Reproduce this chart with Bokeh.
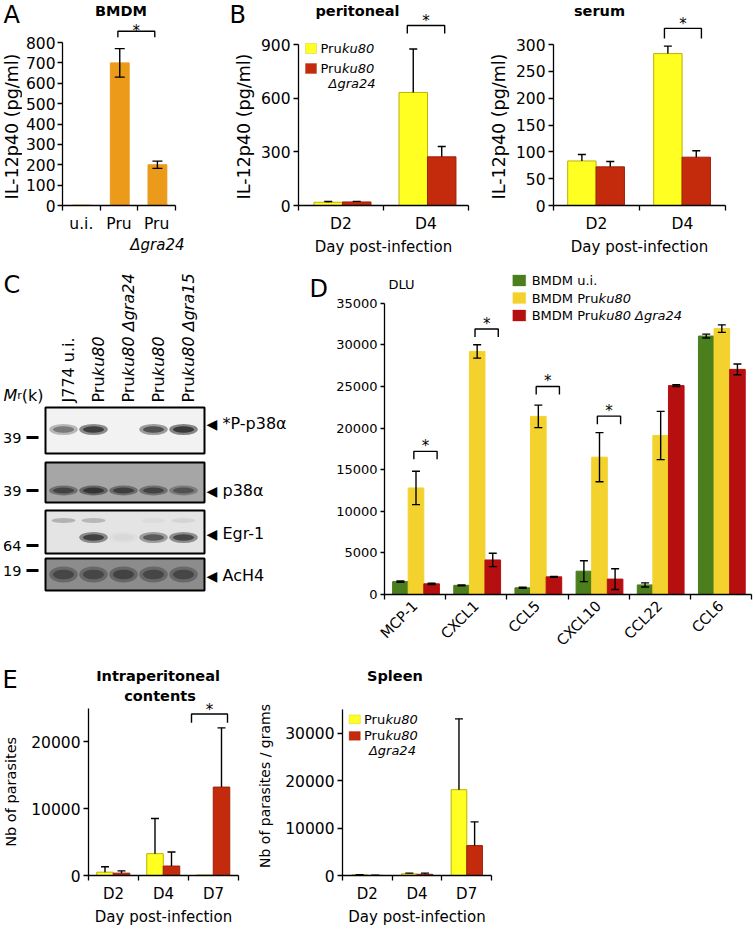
import math
from bokeh.plotting import figure
from bokeh.models import (Range1d, LinearAxis, FixedTicker, Label, Whisker,
                          TeeHead, ColumnDataSource, BoxAnnotation)
from bokeh.layouts import row, column
from bokeh.embed import file_html
from bokeh.resources import INLINE

FONT = "DejaVu Sans"
ORANGE = "#EC9A1A"
YEL, YEL_LINE = "#FFFF22", "#BDB000"
RED, RED_LINE = "#C42A0C", "#A01F08"
D_GREEN, D_YELLOW, D_RED = "#4B7E1C", "#F3D22D", "#B60F10"

# ---------------- data ----------------
a_labels = ["u.i.", "Pru", "Pru"]
a_il12 = [2, 700, 200]
a_il12_err = [0, 70, 18]
a_sig_level = 855

b_days = ["D2", "D4"]
perit_pru = [18, 632]
perit_pru_err = [4, 243]
perit_gra24 = [20, 272]
perit_gra24_err = [3, 58]
perit_sig_level = 1006
serum_pru = [83, 283]
serum_pru_err = [12, 14]
serum_gra24 = [72, 90]
serum_gra24_err = [10, 12]
serum_sig_level = 330

c_lane_labels = [
    [("J774 u.i.", "normal")],
    [("Pru", "normal"), ("ku80", "italic")],
    [("Pru", "normal"), ("ku80 Δgra24", "italic")],
    [("Pru", "normal"), ("ku80", "italic")],
    [("Pru", "normal"), ("ku80 Δgra15", "italic")],
]
c_targets = ["*P-p38α", "p38α", "Egr-1", "AcH4"]
c_mr = ["39", "39", "64", "19"]
c_band = [
    [0.55, 0.95, 0.0, 0.8, 1.0],
    [0.75, 0.9, 0.8, 0.75, 0.6],
    [0.0, 0.9, 0.05, 0.7, 0.85],
    [0.6, 0.6, 0.65, 0.6, 0.6],
]
c_band_upper = [0.35, 0.3, 0.0, 0.05, 0.1]

d_chemokines = ["MCP-1", "CXCL1", "CCL5", "CXCL10", "CCL22", "CCL6"]
d_ui = [1550, 1100, 800, 2800, 1150, 31050]
d_ui_err = [80, 50, 70, 1250, 250, 230]
d_pru = [12800, 29200, 21400, 16500, 19100, 31950]
d_pru_err = [2000, 800, 1350, 2950, 2900, 450]
d_gra24 = [1280, 4150, 2120, 1850, 25100, 27050]
d_gra24_err = [70, 800, 60, 1250, 100, 650]
d_sig_level = [17200, 31900, 25000, 21430, None, None]

e_days = ["D2", "D4", "D7"]
ip_pru = [495, 3260, 80]
ip_pru_err = [815, 5240, 0]
ip_gra24 = [350, 1410, 13200]
ip_gra24_err = [334, 2090, 8840]
ip_sig_level = 24120
sp_pru = [150, 350, 18120]
sp_pru_err = [40, 150, 14970]
sp_gra24 = [20, 250, 6320]
sp_gra24_err = [20, 250, 5010]

# ---------------- helpers ----------------
DJV = {"P": .603, "r": .411, "u": .634, "B": .686, "M": .863, "D": .770, " ": .318}
IDENT = ((0, 0), (1, 1))


def tw(s, size):
    return sum(DJV.get(c, .6) for c in s) * size


class Panel:
    def __init__(self, box, frame, xmap=IDENT, ymap=IDENT):
        bx0, bx1, by0, by1 = box
        l, r, t, b = frame
        (xa, va), (xb, vb) = xmap
        (ya, wa), (yb, wb) = ymap
        self.fx = lambda px: va + (px - xa) * (vb - va) / (xb - xa)
        self.fy = lambda py: wa + (py - ya) * (wb - wa) / (yb - ya)
        self.dy = self.fy(0) - self.fy(1)
        self.p = figure(width=bx1 - bx0, height=by1 - by0,
                        x_range=Range1d(self.fx(l), self.fx(r)),
                        y_range=Range1d(self.fy(b), self.fy(t)),
                        x_axis_location=None, y_axis_location=None,
                        toolbar_location=None, output_backend="svg",
                        min_border_left=round(l - bx0), min_border_right=round(bx1 - r),
                        min_border_top=round(t - by0), min_border_bottom=round(by1 - b),
                        outline_line_color=None, background_fill_color="white",
                        border_fill_color="white")
        self.p.grid.visible = False

    def label(self, x, y, s, size, style="normal", align="left", baseline="middle",
              angle=0, xo=0, yo=0, font=FONT, data=False):
        X = x if data else self.fx(x)
        Y = y if data else self.fy(y)
        self.p.add_layout(Label(x=X, y=Y, text=s, text_font=font,
                                text_font_size=f"{size}px", text_font_style=style,
                                text_align=align, text_baseline=baseline, angle=angle,
                                text_color="black", x_offset=xo, y_offset=yo))

    def rich(self, x, y, parts, size, baseline="middle"):
        off = 0
        for s, style in parts:
            self.label(x, y, s, size, style, xo=off, baseline=baseline)
            off += tw(s, size)

    def bars(self, centers, values, width, color, line=None):
        src = ColumnDataSource(dict(x=centers, top=values))
        self.p.vbar(x="x", top="top", bottom=0, width=width, source=src,
                    fill_color=color, line_color=line or color, line_width=1)

    def errs(self, centers, values, errs, both=True, cap=8):
        pts = [(c, v, e) for c, v, e in zip(centers, values, errs) if e > 0]
        src = ColumnDataSource(dict(x=[c for c, _, _ in pts],
                                    lower=[v - e if both else v for _, v, e in pts],
                                    upper=[v + e for _, v, e in pts]))
        w = Whisker(source=src, base="x", lower="lower", upper="upper",
                    dimension="height", line_color="black", line_width=1.4,
                    level="overlay",
                    upper_head=TeeHead(size=cap, line_width=1.4, line_color="black"),
                    lower_head=TeeHead(size=cap, line_width=1.4, line_color="black") if both else None)
        self.p.add_layout(w)

    def bracket(self, x0, x1, level, leg_px=7, star_px=13):
        leg = leg_px * self.dy
        self.p.line(x=[x0, x0, x1, x1], y=[level - leg, level, level, level - leg],
                    line_color="black", line_width=1.4)
        self.label((x0 + x1) / 2, level, "*", 15, align="center", baseline="alphabetic",
                   yo=star_px - 0.59 * 15, data=True)

    def yaxis(self, ticks, bounds, size, tick_out=5, standoff=3):
        ax = LinearAxis(ticker=FixedTicker(ticks=ticks, minor_ticks=[]), bounds=bounds,
                        major_label_text_font=FONT, major_label_text_font_size=f"{size}px",
                        major_label_text_color="black", major_tick_out=tick_out, major_tick_in=0,
                        minor_tick_out=0, minor_tick_in=0, major_label_standoff=standoff,
                        axis_line_width=1.3, major_tick_line_width=1.3,
                        axis_line_color="black", major_tick_line_color="black")
        self.p.add_layout(ax, "left")

    def xaxis(self, labels, size, orientation="horizontal", title=None, title_size=15):
        n = len(labels)
        centers = [i + 0.5 for i in range(n)]
        ax = LinearAxis(ticker=FixedTicker(ticks=centers, minor_ticks=list(range(n + 1))),
                        bounds=(0, n), major_label_overrides={c: s for c, s in zip(centers, labels)},
                        major_label_text_font=FONT, major_label_text_font_size=f"{size}px",
                        major_label_text_color="black", major_tick_out=0, major_tick_in=0,
                        minor_tick_out=5, minor_tick_in=0, major_label_standoff=4,
                        major_label_orientation=orientation,
                        axis_line_width=1.3, minor_tick_line_width=1.3,
                        axis_line_color="black", minor_tick_line_color="black")
        if title:
            ax.axis_label = title
            ax.axis_label_text_font = FONT
            ax.axis_label_text_font_size = f"{title_size}px"
            ax.axis_label_text_font_style = "normal"
            ax.axis_label_text_color = "black"
            ax.axis_label_standoff = 2
        self.p.add_layout(ax, "below")

    def legend_box(self, x0, x1, y0, y1, color, line):
        self.p.add_layout(BoxAnnotation(left=self.fx(x0), right=self.fx(x1),
                                        top=self.fy(y0), bottom=self.fy(y1),
                                        fill_color=color, fill_alpha=1, line_color=line,
                                        line_width=1, level="overlay"))


# ================= row 1 =================
SA = Panel((0, 22, 0, 268), (0, 22, 0, 205))
SA.label(3, 14, "A", 24)
SA.label(11.5, 126, "IL-12p40 (pg/ml)", 17.5, align="center", angle=math.pi / 2)

A = Panel((22, 185, 0, 268), (61, 175, 0, 205), ((61, 0), (175, 3)), ((205, 0), (42, 800)))
a_x = [i + 0.52 for i in range(len(a_labels))]
A.bars(a_x, a_il12, 0.5, ORANGE)
A.errs(a_x, a_il12, a_il12_err, both=True, cap=10)
A.yaxis(list(range(0, 801, 100)), (0, 800), 15.5, tick_out=5, standoff=2)
A.xaxis(a_labels, 15.5)
A.p.add_layout(LinearAxis(ticker=FixedTicker(ticks=[a_x[2]], minor_ticks=[]), bounds=(0, 3),
                          major_label_overrides={a_x[2]: "Δgra24"},
                          major_label_text_font=FONT, major_label_text_font_size="15px",
                          major_label_text_font_style="italic", major_label_text_color="black",
                          major_label_standoff=0, major_tick_out=0, major_tick_in=0,
                          minor_tick_out=0, minor_tick_in=0, axis_line_color=None,
                          major_tick_line_color=None, minor_tick_line_color=None), "below")
A.label(120, 10, "BMDM", 14.5, "bold", align="center")
A.bracket(a_x[1] - 0.05, a_x[2] - 0.07, a_sig_level, leg_px=6, star_px=9)

SB1 = Panel((185, 257, 0, 268), (185, 257, 0, 205))
SB1.label(229, 14, "B", 24)
SB1.label(243, 126, "IL-12p40 (pg/ml)", 17.5, align="center", angle=math.pi / 2)

B1 = Panel((257, 475, 0, 268), (298, 468, 0, 205), ((298, 0), (468, 2)), ((205, 0), (44, 900)))
yx = [i + 0.35 for i in range(len(b_days))]
rx = [i + 0.685 for i in range(len(b_days))]
B1.bars(yx, perit_pru, 0.335, YEL, YEL_LINE)
B1.bars(rx, perit_gra24, 0.335, RED, RED_LINE)
B1.errs(yx, perit_pru, perit_pru_err, both=False)
B1.errs(rx, perit_gra24, perit_gra24_err, both=False)
B1.yaxis([0, 300, 600, 900], (0, 900), 15.5)
B1.xaxis(b_days, 15.5, title="Day post-infection")
B1.label(357, 10, "peritoneal", 14.5, "bold", align="center")
B1.bracket(1.28, 1.72, perit_sig_level, leg_px=8, star_px=13)
B1.legend_box(305, 316, 43, 53, YEL, YEL_LINE)
B1.legend_box(305, 316, 63, 73, RED, RED_LINE)
B1.rich(320, 48, [("Pru", "normal"), ("ku80", "italic")], 13)
B1.rich(320, 68, [("Pru", "normal"), ("ku80", "italic")], 13)
B1.label(328, 83, "Δgra24", 13, "italic")

SB2 = Panel((475, 511, 0, 268), (475, 511, 0, 205))
SB2.label(498, 126, "IL-12p40 (pg/ml)", 17.5, align="center", angle=math.pi / 2)

B2 = Panel((511, 753, 0, 268), (553, 725, 0, 205), ((553, 0), (725, 2)), ((205, 0), (44, 300)))
yx = [i + 0.33 for i in range(len(b_days))]
rx = [i + 0.66 for i in range(len(b_days))]
B2.bars(yx, serum_pru, 0.33, YEL, YEL_LINE)
B2.bars(rx, serum_gra24, 0.33, RED, RED_LINE)
B2.errs(yx, serum_pru, serum_pru_err, both=False)
B2.errs(rx, serum_gra24, serum_gra24_err, both=False)
B2.yaxis(list(range(0, 301, 50)), (0, 300), 15.5)
B2.xaxis(b_days, 15.5, title="Day post-infection")
B2.label(599, 10, "serum", 14.5, "bold", align="center")
B2.bracket(1.29, 1.72, serum_sig_level, leg_px=10, star_px=13)

# ================= row 2 =================
C = Panel((0, 308, 268, 660), (0, 308, 268, 594), ((33, 0), (63, 1)))
c_box_top = [407, 462, 510, 558]
c_box_bot = [453, 502, 553, 590]
c_box_bg = ["#f2f2f2", "#a6a6a6", "#e4e4e4", "#8c8c8c"]
c_band_y = [429, 490, 537, 574]
c_band_h = [11, 10, 11, 16]
c_mr_y = [437, 490, 545, 570]
c_target_y = [423, 490, 533, 575]
lanes = list(range(1, len(c_lane_labels) + 1))
C.p.quad(left=C.fx(45), right=C.fx(204), top=c_box_top, bottom=c_box_bot,
         fill_color=c_box_bg, line_color="black", line_width=2)
bx, by, bw, bh, ba = [], [], [], [], []
for r, row_int in enumerate(c_band):
    for i, inten in enumerate(row_int):
        if inten <= 0:
            continue
        for wf, hf, af in [(0.95, 1.0, 0.5), (0.7, 0.6, 0.7)]:
            bx.append(lanes[i]); by.append(c_band_y[r])
            bw.append(wf); bh.append(c_band_h[r] * hf); ba.append(af * inten)
for i, inten in enumerate(c_band_upper):
    if inten > 0:
        bx.append(lanes[i]); by.append(520); bw.append(0.8); bh.append(5); ba.append(inten * 0.7)
C.p.ellipse(x="x", y="y", width="w", height="h", fill_alpha="a", fill_color="#181818",
            line_color=None, source=ColumnDataSource(dict(x=bx, y=by, w=bw, h=bh, a=ba)))
C.p.segment(x0=C.fx(26), x1=C.fx(38), y0=c_mr_y, y1=c_mr_y, line_color="black", line_width=3)
for ln, parts in zip(lanes, c_lane_labels):
    off = 0
    for s, style in parts:
        C.label(ln + 0.15, 402, s, 16, style, angle=math.pi / 2, yo=off, data=True)
        off += tw(s, 16)
for s, y in zip(c_mr, c_mr_y):
    C.label(21, y, s, 14.5, align="right")
for s, y in zip(c_targets, c_target_y):
    C.label(206, y, "◀", 14)
    C.label(222, y, s, 16)
C.label(3, 395, "M", 16, "italic", baseline="alphabetic")
C.label(3, 395, "r", 11, baseline="alphabetic", xo=tw("M", 16))
C.label(3, 395, "(k)", 16, baseline="alphabetic", xo=tw("M", 16) + tw("r", 11))
C.label(3, 284, "C", 24)

SD = Panel((308, 333, 268, 660), (308, 333, 268, 594))
SD.label(309, 288, "D", 24)

D = Panel((333, 753, 268, 660), (382, 751, 268, 594), ((382, 0), (751, 6)), ((594, 0), (302.7, 35000)))
nd = len(d_chemokines)
gx = [i + 0.26 for i in range(nd)]
yx = [i + 0.515 for i in range(nd)]
rx = [i + 0.77 for i in range(nd)]
D.bars(gx, d_ui, 0.255, D_GREEN)
D.bars(yx, d_pru, 0.255, D_YELLOW)
D.bars(rx, d_gra24, 0.255, D_RED)
D.errs(gx, d_ui, d_ui_err, cap=8)
D.errs(yx, d_pru, d_pru_err, cap=8)
D.errs(rx, d_gra24, d_gra24_err, cap=8)
D.yaxis(list(range(0, 35001, 5000)), (0, 35000), 13, tick_out=4, standoff=3)
D.xaxis(d_chemokines, 14.5, orientation=math.pi / 4)
for i, lev in enumerate(d_sig_level):
    if lev is not None:
        D.bracket(i + 0.48, i + 0.86, lev, leg_px=8, star_px=14)
D.label(386, 284, "DLU", 13)
d_leg_y = [280, 297.5, 315]
for y, c in zip(d_leg_y, [D_GREEN, D_YELLOW, D_RED]):
    D.legend_box(511, 524, y - 5.5, y + 5.5, c, c)
D.label(530, d_leg_y[0], "BMDM u.i.", 13)
D.rich(530, d_leg_y[1], [("BMDM Pru", "normal"), ("ku80", "italic")], 13)
D.rich(530, d_leg_y[2], [("BMDM Pru", "normal"), ("ku80 Δgra24", "italic")], 13)

# ================= row 3 =================
SE1 = Panel((0, 28, 660, 928), (0, 28, 660, 881))
SE1.label(2, 680, "E", 24)
SE1.label(10, 795, "Nb of parasites", 14.5, align="center", angle=math.pi / 2)

E1 = Panel((28, 250, 660, 928), (87, 238, 660, 881), ((87, 0), (238, 3)), ((881, 0), (743.3, 20000)))
ne = len(e_days)
yx = [i + 0.33 for i in range(ne)]
rx = [i + 0.66 for i in range(ne)]
E1.bars(yx, ip_pru, 0.33, YEL, YEL_LINE)
E1.bars(rx, ip_gra24, 0.33, RED, RED_LINE)
E1.errs(yx, ip_pru, ip_pru_err, both=False)
E1.errs(rx, ip_gra24, ip_gra24_err, both=False)
E1.yaxis([0, 10000, 20000], (0, 25000), 15.5)
E1.xaxis(e_days, 15, title="Day post-infection")
E1.bracket(2.06, 2.78, ip_sig_level, leg_px=9, star_px=13)
E1.label(157, 676, "Intraperitoneal", 14.5, "bold", align="center")
E1.label(159, 697, "contents", 14.5, "bold", align="center")

SE2 = Panel((250, 282, 660, 928), (250, 282, 660, 881))
SE2.label(264, 789, "Nb of parasites / grams", 14, align="center", angle=math.pi / 2)

E2 = Panel((282, 753, 660, 928), (340, 490.7, 660, 881), ((340, 0), (490.7, 3)), ((881, 0), (735, 30000)))
yx = [i + 0.345 for i in range(ne)]
rx = [i + 0.66 for i in range(ne)]
E2.bars(yx, sp_pru, 0.315, YEL, YEL_LINE)
E2.bars(rx, sp_gra24, 0.315, RED, RED_LINE)
E2.errs(yx, sp_pru, sp_pru_err, both=False)
E2.errs(rx, sp_gra24, sp_gra24_err, both=False)
E2.yaxis([0, 10000, 20000, 30000], (0, 35000), 15.5)
E2.xaxis(e_days, 15, title="Day post-infection")
E2.label(393, 676, "Spleen", 14.5, "bold", align="center")
E2.legend_box(346.7, 358, 716, 725, YEL, YEL_LINE)
E2.legend_box(346.7, 358, 733, 742, RED, RED_LINE)
E2.rich(361.7, 720.5, [("Pru", "normal"), ("ku80", "italic")], 13)
E2.rich(361.7, 737.5, [("Pru", "normal"), ("ku80", "italic")], 13)
E2.label(366.7, 753, "Δgra24", 13, "italic")

layout = column(row(SA.p, A.p, SB1.p, B1.p, SB2.p, B2.p),
                row(C.p, SD.p, D.p),
                row(SE1.p, E1.p, SE2.p, E2.p))
open("out.html", "w").write(file_html(layout, INLINE))
